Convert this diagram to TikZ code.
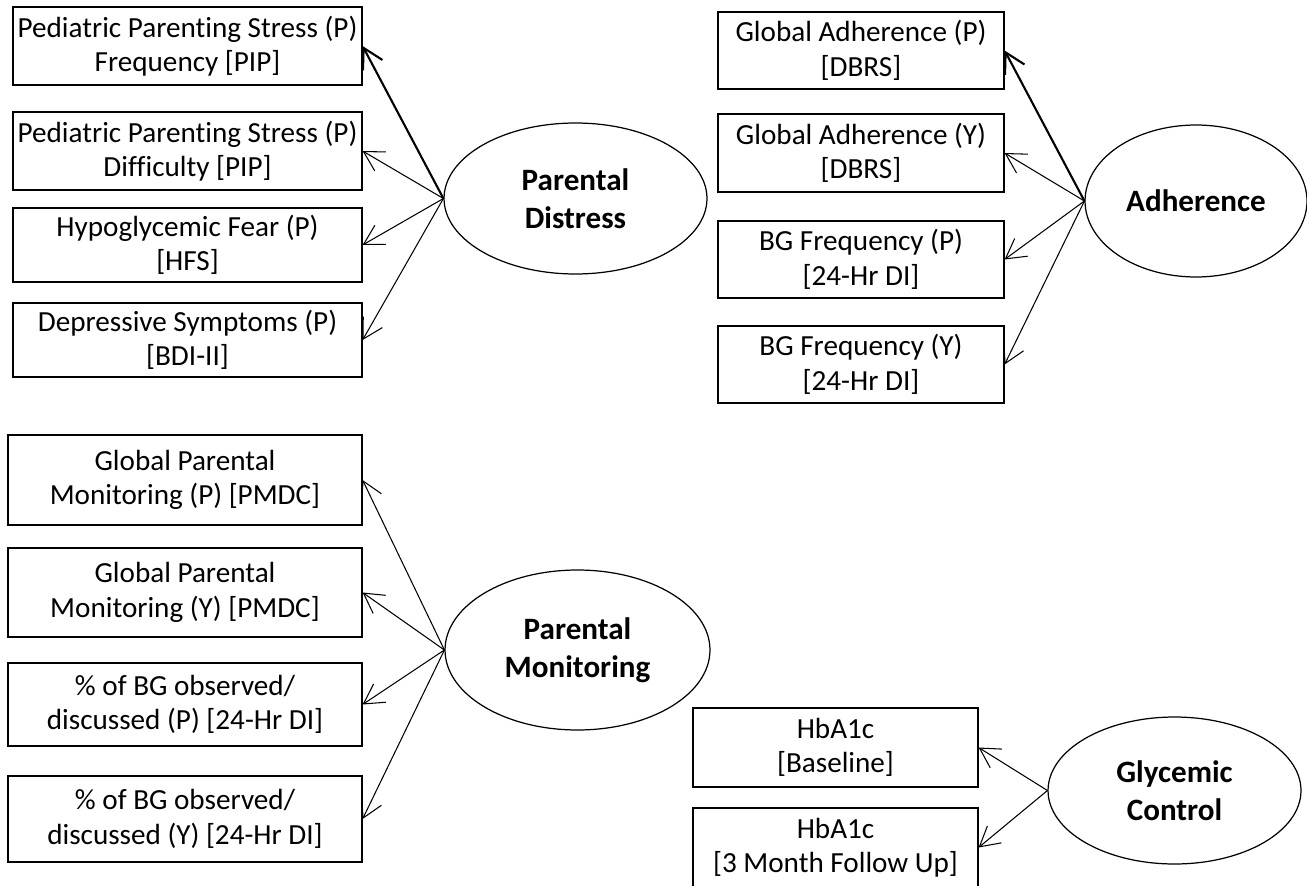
\documentclass[tikz,border=0pt]{standalone}
\usepackage{fontspec}
\setmainfont[Ligatures={NoCommon}]{Carlito}
\usepackage{tikz}
\usetikzlibrary{arrows.meta,positioning,shapes.geometric}

\begin{document}
\begin{tikzpicture}[
    x=0.02cm, y=-0.02cm,
    box/.style={rectangle, draw, line width=0.7pt, align=center, inner sep=0pt,
        font=\fontsize{16.6pt}{19.6pt}\selectfont},
    latent/.style={ellipse, draw, line width=0.7pt, align=center, inner sep=0pt,
        font=\fontsize{17.7pt}{21.8pt}\selectfont\bfseries},
    arrow/.style={-{Straight Barb[length=3.9mm, width=4.4mm]}, line width=0.6pt},
    bold arrow/.style={arrow, line width=1.2pt}
]
    \useasboundingbox (0,0) rectangle (1307,885);

    % Parental distress
    \node[box, minimum width=6.98cm, minimum height=1.56cm] (pipfreq) at (187.5,46) {Pediatric Parenting Stress (P)\\Frequency [PIP]};
    \node[box, minimum width=6.98cm, minimum height=1.56cm] (pipdiff) at (187.5,151) {Pediatric Parenting Stress (P)\\Difficulty [PIP]};
    \node[box, minimum width=6.98cm, minimum height=1.48cm] (hfs) at (187.5,245) {Hypoglycemic Fear (P)\\{[HFS]}};
    \node[box, minimum width=6.98cm, minimum height=1.48cm] (bdi) at (187.5,340) {Depressive Symptoms (P)\\{[BDI-II]}};
    \node[latent, minimum width=5.26cm, minimum height=3.02cm] (distress) at (575.5,198.5) {Parental\\Distress};

    \draw[bold arrow] (distress.west) -- (pipfreq.east);
    \draw[arrow] (distress.west) -- (pipdiff.east);
    \draw[arrow] (distress.west) -- (hfs.east);
    \draw[arrow] (distress.west) -- (bdi.east);

    % Adherence
    \node[box, minimum width=5.72cm, minimum height=1.54cm] (dbrsp) at (861,50.5) {Global Adherence (P)\\{[DBRS]}};
    \node[box, minimum width=5.72cm, minimum height=1.56cm] (dbrsy) at (861,153) {Global Adherence (Y)\\{[DBRS]}};
    \node[box, minimum width=5.72cm, minimum height=1.54cm] (bgp) at (861,259.5) {BG Frequency (P)\\{[24-Hr DI]}};
    \node[box, minimum width=5.72cm, minimum height=1.54cm] (bgy) at (861,364.5) {BG Frequency (Y)\\{[24-Hr DI]}};
    \node[latent, minimum width=4.44cm, minimum height=3.04cm] (adherence) at (1196,201) {Adherence};

    \draw[bold arrow] (adherence.west) -- (dbrsp.east);
    \draw[arrow] (adherence.west) -- (dbrsy.east);
    \draw[arrow] (adherence.west) -- (bgp.east);
    \draw[arrow] (adherence.west) -- (bgy.east);

    % Parental monitoring
    \node[box, minimum width=7.08cm, minimum height=1.8cm] (pmdcp) at (185,480) {Global Parental\\Monitoring (P) [PMDC]};
    \node[box, minimum width=7.08cm, minimum height=1.78cm] (pmdcy) at (185,592.5) {Global Parental\\Monitoring (Y) [PMDC]};
    \node[box, minimum width=7.08cm, minimum height=1.66cm] (obsp) at (185,704.5) {\% of BG observed/\\discussed (P) [24-Hr DI]};
    \node[box, minimum width=7.08cm, minimum height=1.72cm] (obsy) at (185,819) {\% of BG observed/\\discussed (Y) [24-Hr DI]};
    \node[latent, minimum width=5.3cm, minimum height=3.2cm] (monitoring) at (577.5,650) {Parental\\Monitoring};

    \draw[arrow] (monitoring.west) -- (pmdcp.east);
    \draw[arrow] (monitoring.west) -- (pmdcy.east);
    \draw[arrow] (monitoring.west) -- (obsp.east);
    \draw[arrow] (monitoring.west) -- (obsy.east);

    % Glycemic control
    \node[box, minimum width=5.7cm, minimum height=1.58cm] (hbbase) at (835.5,747.5) {HbA1c\\{[Baseline]}};
    \node[box, minimum width=5.7cm, minimum height=1.58cm] (hbfollow) at (835.5,847.5) {HbA1c\\{[3 Month Follow Up]}};
    \node[latent, minimum width=5.06cm, minimum height=2.94cm] (glycemic) at (1174.5,790.5) {Glycemic\\Control};

    \draw[arrow] (glycemic.west) -- (hbbase.east);
    \draw[arrow] (glycemic.west) -- (hbfollow.east);
\end{tikzpicture}
\end{document}
